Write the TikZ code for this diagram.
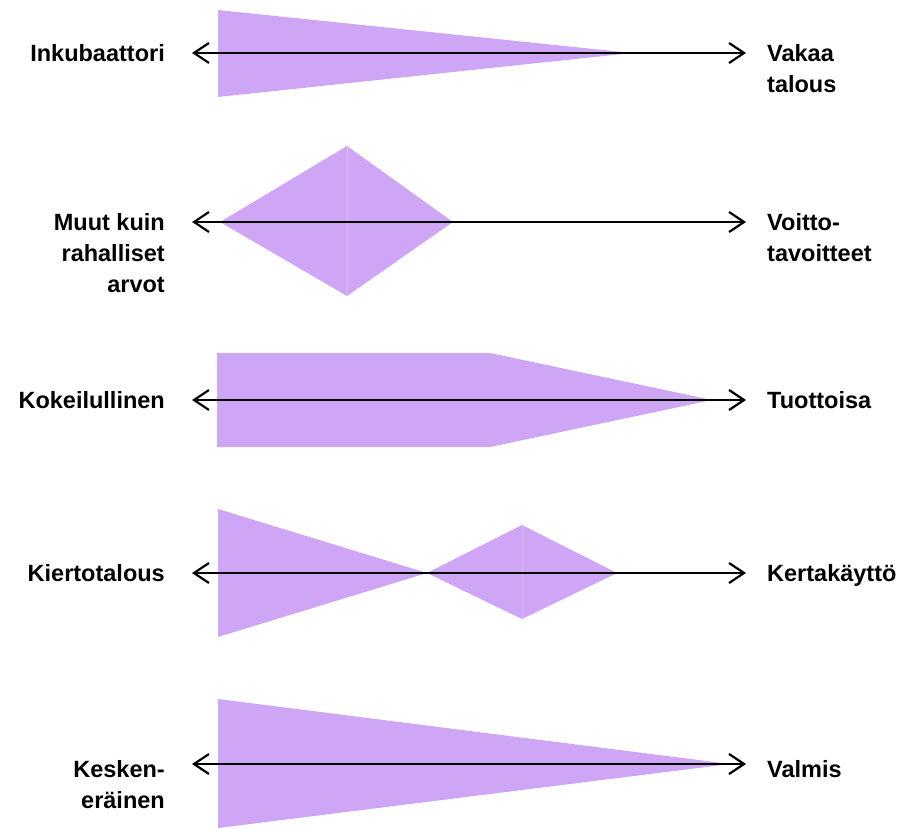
\documentclass[tikz,border=0pt]{standalone}
\usepackage{fontspec}
\setmainfont{Liberation Sans}
\usetikzlibrary{arrows.meta}
\definecolor{lilac}{RGB}{206,166,245}
\tikzset{
  band/.style={fill=lilac, draw=none},
  seam/.style={draw=lilac!75!white, line width=0.6pt},
  mybarb/.tip={Straight Barb[length=15pt,width=20pt,line width=2.2pt]},
  axis/.style={line width=2.2pt, {mybarb}-{mybarb}},
  lbl/.style={font=\bfseries\fontsize{23.5}{31}\selectfont, inner sep=0pt},
  leftlbl/.style={lbl, anchor=base east, align=right},
  rightlbl/.style={lbl, anchor=base west, align=left}
}
\begin{document}
\begin{tikzpicture}[x=1pt,y=-1pt]
\useasboundingbox (0,0) rectangle (903,829);
% shapes
\fill[band] (218,10) -- (632,53) -- (218,97) -- cycle;
\fill[band] (220,222) -- (347,146) -- (347,296) -- cycle;
\fill[band] (347,146) -- (453,222) -- (347,296) -- cycle;
\draw[seam] (347,146) -- (347,296);
\fill[band] (217,353) -- (490,353) -- (712,400) -- (490,447) -- (217,447) -- cycle;
\fill[band] (218,509) -- (427,573) -- (218,637) -- cycle;
\fill[band] (427,573) -- (522,525) -- (522,619) -- cycle;
\fill[band] (522,525) -- (617,573) -- (522,619) -- cycle;
\draw[seam] (522,525) -- (522,619);
\fill[band] (218,699) -- (730,764) -- (218,828) -- cycle;
% arrow ends
\foreach \n/\y in {a/53,b/222,c/400,d/573,e/764}{
  \coordinate (\n L) at (192,\y);
  \coordinate (\n R) at (746,\y);
}
\draw[axis] (aL) -- (aR);
\draw[axis] (bL) -- (bR);
\draw[axis] (cL) -- (cR);
\draw[axis] (dL) -- (dR);
\draw[axis] (eL) -- (eR);
% labels (base anchor = baseline of last line)
\node[leftlbl] (l1) at (165,61.5) {Inkubaattori};
\node[rightlbl] (r1) at (767,92.5) {Vakaa\\talous};
\node[leftlbl] (l2) at (165,292.5) {Muut kuin\\rahalliset\\arvot};
\node[rightlbl] (r2) at (767,261.5) {Voitto-\\tavoitteet};
\node[leftlbl] (l3) at (165,408.5) {Kokeilullinen};
\node[rightlbl] (r3) at (767,408.5) {Tuottoisa};
\node[leftlbl] (l4) at (165,581.5) {Kiertotalous};
\node[rightlbl] (r4) at (767,581.5) {Kertakäyttö};
\node[leftlbl] (l5) at (165,808.5) {Kesken-\\eräinen};
\node[rightlbl] (r5) at (767,777.5) {Valmis};
\end{tikzpicture}
\end{document}
